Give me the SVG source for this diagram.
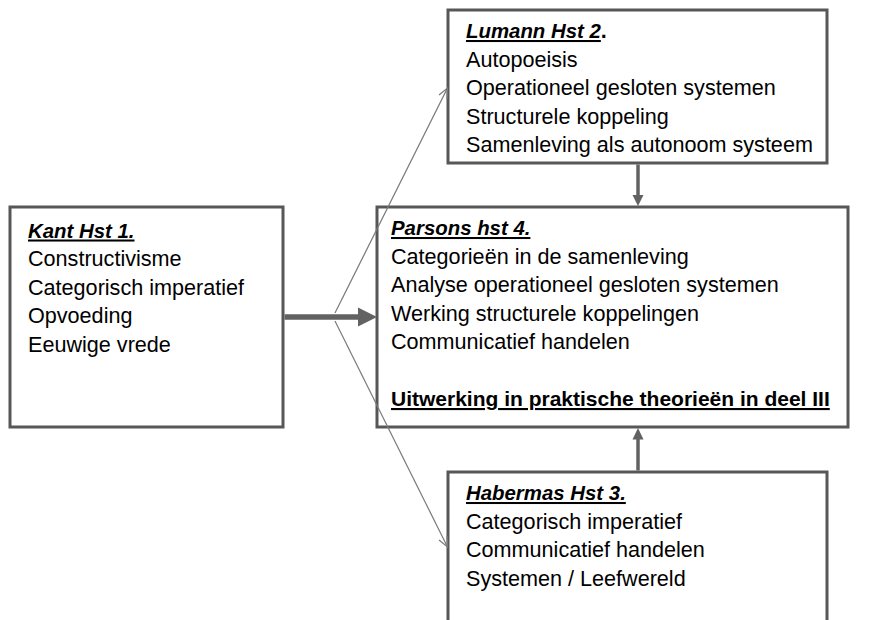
<svg xmlns="http://www.w3.org/2000/svg" width="889" height="620" viewBox="0 0 889 620">
  <style>
    .box { fill: #ffffff; stroke: #575757; stroke-width: 3; }
    .t { font-family: "Liberation Sans", Arial, sans-serif; font-size: 21.6px; fill: #000000; }
    .h { font-weight: bold; font-style: italic; text-decoration: underline; font-size: 20.4px; }
    .b { font-weight: bold; text-decoration: underline; font-size: 21px; }
    .thin { stroke: #7a7a7a; stroke-width: 1.2; fill: none; }
    .thick { stroke: #626262; fill: none; }
    .head { fill: #626262; }
  </style>
  <defs>
    <marker id="open" markerUnits="userSpaceOnUse" markerWidth="12" markerHeight="12" viewBox="0 0 12 12" refX="11" refY="6" orient="auto">
      <path d="M1,1.5 L11,6 L1,10.5" fill="none" stroke="#7a7a7a" stroke-width="1.2"/>
    </marker>
  </defs>

  <g id="kant">
    <rect class="box" x="10" y="207" width="273" height="220"/>
    <text class="t" x="28" y="237.5"><tspan class="h">Kant Hst 1.</tspan></text>
    <text class="t" x="28" y="266">Constructivisme</text>
    <text class="t" x="28" y="294.5">Categorisch imperatief</text>
    <text class="t" x="28" y="323">Opvoeding</text>
    <text class="t" x="28" y="351.5">Eeuwige vrede</text>
  </g>

  <g id="lumann">
    <rect class="box" x="448" y="10" width="379" height="153"/>
    <text class="t" x="466" y="38"><tspan class="h">Lumann Hst 2</tspan><tspan font-weight="bold">.</tspan></text>
    <text class="t" x="466" y="66.5">Autopoeisis</text>
    <text class="t" x="466" y="95">Operationeel gesloten systemen</text>
    <text class="t" x="466" y="123.5">Structurele koppeling</text>
    <text class="t" x="466" y="152">Samenleving als autonoom systeem</text>
  </g>

  <g id="parsons">
    <rect class="box" x="377" y="207" width="471" height="220"/>
    <text class="t" x="391" y="235"><tspan class="h">Parsons hst 4.</tspan></text>
    <text class="t" x="391" y="263.5">Categorieën in de samenleving</text>
    <text class="t" x="391" y="292">Analyse operationeel gesloten systemen</text>
    <text class="t" x="391" y="320.5">Werking structurele koppelingen</text>
    <text class="t" x="391" y="349">Communicatief handelen</text>
    <text class="t" x="391" y="406"><tspan class="b">Uitwerking in praktische theorieën in deel III</tspan></text>
  </g>

  <g id="habermas">
    <rect class="box" x="448" y="472" width="379" height="170"/>
    <text class="t" x="466" y="500"><tspan class="h">Habermas Hst 3.</tspan></text>
    <text class="t" x="466" y="528.5">Categorisch imperatief</text>
    <text class="t" x="466" y="557">Communicatief handelen</text>
    <text class="t" x="466" y="585.5">Systemen / Leefwereld</text>
  </g>

  <g id="connectors">
    <!-- Kant -> Parsons (thick) -->
    <line class="thick" x1="284.5" y1="317" x2="359" y2="317" stroke-width="5.5"/>
    <polygon class="head" points="358,307.5 377,317 358,326.5"/>
    <!-- thin to Lumann -->
    <line class="thin" x1="335" y1="313" x2="447.5" y2="88" marker-end="url(#open)"/>
    <!-- thin to Habermas -->
    <line class="thin" x1="335" y1="321" x2="447.5" y2="547" marker-end="url(#open)"/>
    <!-- Lumann -> Parsons -->
    <line class="thick" x1="638" y1="164.5" x2="638" y2="196" stroke-width="3.5"/>
    <polygon class="head" points="632.5,195 643.5,195 638,206"/>
    <!-- Habermas -> Parsons -->
    <line class="thick" x1="638" y1="470.5" x2="638" y2="438" stroke-width="3.5"/>
    <polygon class="head" points="632.5,439.5 643.5,439.5 638,428"/>
  </g>
</svg>
